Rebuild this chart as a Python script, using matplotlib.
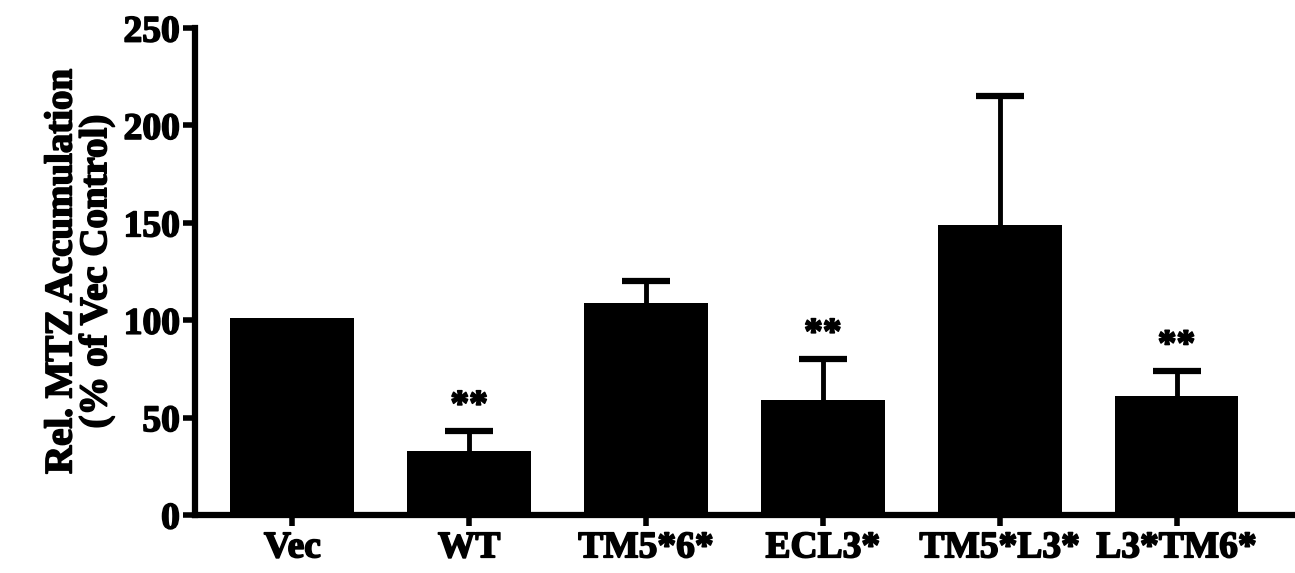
import numpy as np
import matplotlib
matplotlib.use("Agg")
from matplotlib import pyplot as plt
import matplotlib.patheffects as pe

# Data
groups = ["Vec", "WT", "TM5*6*", "ECL3*", "TM5*L3*", "L3*TM6*"]
means = [101, 33, 109, 59, 149, 61]
errors = [0, 10, 11, 21, 66, 13]
stars = ["", "**", "", "**", "", "**"]

plt.rcParams['font.family'] = ['Liberation Serif', 'DejaVu Serif']
plt.rcParams['font.weight'] = 'bold'
thick = [pe.withStroke(linewidth=1.2, foreground='black')]

fig = plt.figure(figsize=(12.95, 5.73), dpi=100)
ax = fig.add_axes([0.1506, 0.1012, 0.8494, 0.8498])

x = np.arange(len(groups))
ax.bar(x, means, width=0.7, color='black', zorder=3)
eb = ax.errorbar(x[1:], means[1:], yerr=[np.zeros(len(x) - 1), errors[1:]],
                 fmt='none', ecolor='black', elinewidth=3.5, capsize=17,
                 capthick=4.5, zorder=1)
# only the upper cap is shown
eb[1][0].set_visible(False)

# significance stars above the error bars
for i in range(len(groups)):
    if stars[i]:
        ax.text(x[i], means[i] + errors[i] + 4, stars[i], ha='center',
                va='bottom', fontsize=27, fontweight='bold', path_effects=thick)

ax.set_xlim(-0.55, 5.67)
ax.set_ylim(0, 250)
ax.set_yticks([0, 50, 100, 150, 200, 250])
ax.set_xticks(x)
ax.set_xticklabels(groups, fontsize=27, fontweight='bold')
ax.tick_params(axis='y', labelsize=27, width=4, length=9, pad=2)
ax.tick_params(axis='x', width=4, length=8, pad=3)
for lab in ax.get_xticklabels() + ax.get_yticklabels():
    lab.set_path_effects(thick)
ax.set_ylabel("Rel. MTZ Accumulation\n(% of Vec Control)", fontsize=28,
              fontweight='bold', linespacing=0.92, labelpad=6,
              path_effects=thick)

for s in ['top', 'right']:
    ax.spines[s].set_visible(False)
for s in ['left', 'bottom']:
    ax.spines[s].set_linewidth(4.5)

fig.savefig("out.png", dpi=100)
